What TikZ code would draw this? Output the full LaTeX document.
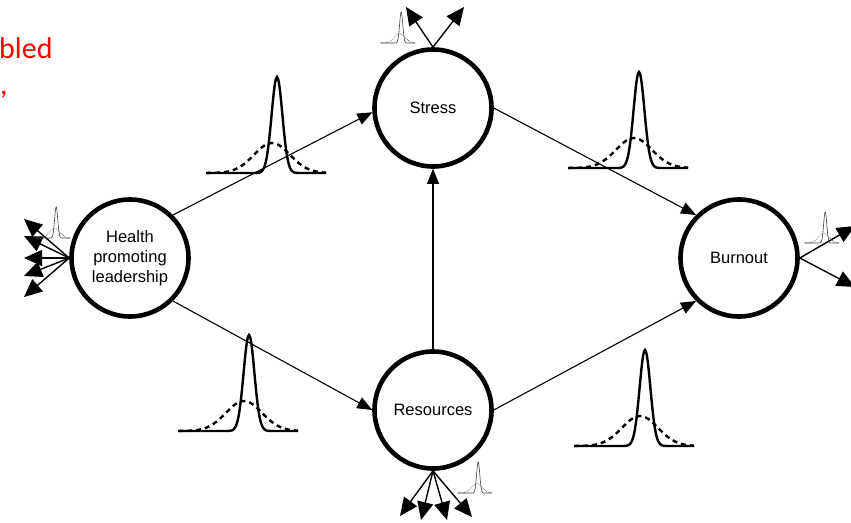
\documentclass[tikz,border=0pt]{standalone}
\usepackage{fontspec}
\setmainfont{Liberation Sans}
\newfontfamily\redfont{Carlito}
\usetikzlibrary{arrows.meta}

\begin{document}
\begin{tikzpicture}[x=1pt,y=-1pt,
  latent/.style={circle,draw,line width=4.6pt,minimum size=117pt,inner sep=0pt,align=center,font=\fontsize{16.5}{20}\selectfont},
  regpath/.style={line width=1.1pt,-{Triangle[length=15pt,width=12pt]}},
  loading/.style={line width=1.4pt,-{Triangle[length=18pt,width=16pt]}},
  bigcurve/.style={line width=2.4pt},
  smallcurve/.style={line width=0.6pt,black!75}]
\useasboundingbox (0,0) rectangle (851,522);
\node[text=red,anchor=base west,inner sep=0pt,font=\redfont\fontsize{30}{34}\selectfont] (cut1) at (-1,58) {bled};
\node[text=red,anchor=base west,inner sep=0pt,font=\redfont\fontsize{30}{34}\selectfont] (cut2) at (0,94) {,};
\node[latent] (health) at (130,258) {Health\\promoting\\leadership};
\node[latent] (stress) at (433,108) {Stress};
\node[latent] (resources) at (433,410) {Resources};
\node[latent] (burnout) at (739,258) {Burnout};
\draw[regpath] (health.45) -- (stress.184);
\draw[regpath] (health.-45) -- (resources.west);
\draw[regpath] (stress.east) -- (burnout.135);
\draw[regpath] (resources.east) -- (burnout.225);
\draw[regpath] (resources.north) -- (stress.south);
\foreach \ty [count=\i] in {219,236,258,276,297}{
  \coordinate (h\i) at (24,\ty);
  \draw[loading] (health.west) -- (h\i);
}
\coordinate (s1) at (406,7);
\coordinate (s2) at (464,7);
\draw[loading] (stress.north) -- (s1);
\draw[loading] (stress.north) -- (s2);
\coordinate (b1) at (855,226);
\coordinate (b2) at (855,287);
\draw[loading] (burnout.east) -- (b1);
\draw[loading] (burnout.east) -- (b2);
\foreach \tx/\ty [count=\i] in {400/516,421/520,447/520,472/517}{
  \coordinate (r\i) at (\tx,\ty);
  \draw[loading] (resources.south) -- (r\i);
}
\foreach \cx/\by in {266/173,238/431,628/168,634/446}{
  \draw[bigcurve] plot[domain=-60:60,samples=121,smooth] ({\cx+\x},{\by-96*exp(-0.5*((\x-11)/5.4)*((\x-11)/5.4))});
  \draw[bigcurve,dash pattern=on 5pt off 4pt] plot[domain=-60:60,samples=61,smooth] ({\cx+\x},{\by-30*exp(-0.5*((\x-6)/18)*((\x-6)/18))});
}
\foreach \cx/\by in {53/238,398/43,822/243,475/493}{
  \draw[smallcurve] plot[domain=-60:60,samples=121,smooth] ({\cx+0.29*\x},{\by-31*exp(-0.5*((\x-11)/5.4)*((\x-11)/5.4))});
  \draw[smallcurve,densely dotted] plot[domain=-60:60,samples=61,smooth] ({\cx+0.29*\x},{\by-9.5*exp(-0.5*((\x-6)/18)*((\x-6)/18))});
}
\end{tikzpicture}
\end{document}
